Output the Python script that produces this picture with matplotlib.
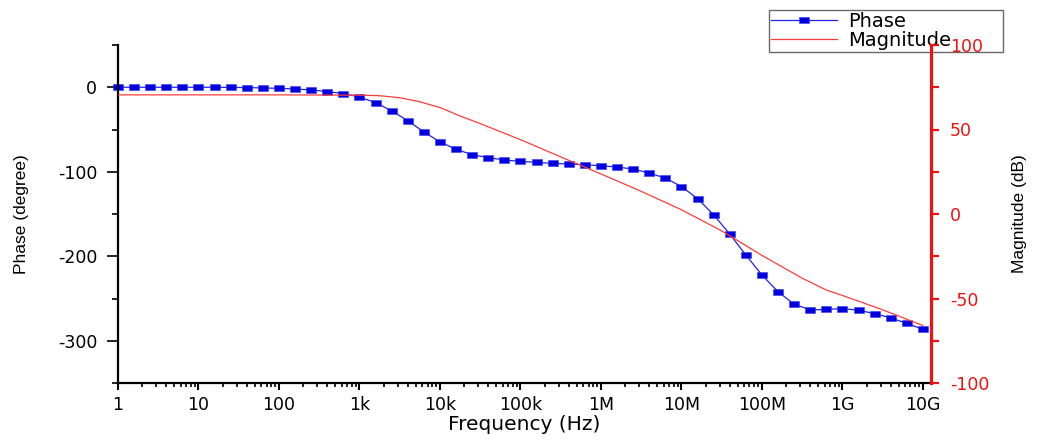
import numpy as np
from matplotlib import pyplot as plt
from matplotlib import font_manager
from matplotlib.path import Path
from matplotlib.ticker import FixedLocator, NullFormatter

# phase samples, 5 per decade (exponent of frequency in Hz)
phase_exp = [0.0, 0.2, 0.4, 0.6, 0.8, 1.0, 1.2, 1.4, 1.6, 1.8,
             2.0, 2.2, 2.4, 2.6, 2.8, 3.0, 3.2, 3.4, 3.6, 3.8,
             4.0, 4.2, 4.4, 4.6, 4.8, 5.0, 5.2, 5.4, 5.6, 5.8,
             6.0, 6.2, 6.4, 6.6, 6.8, 7.0, 7.2, 7.4, 7.6, 7.8,
             8.0, 8.2, 8.4, 8.6, 8.8, 9.0, 9.2, 9.4, 9.6, 9.8, 10.0]
phase_deg = [0, 0, 0, 0, 0, 0, 0, -0.2, -0.4, -0.8,
             -1.3, -2.1, -3.2, -5.1, -7.5, -11.5, -18.3, -27.8, -39.7, -52.8,
             -64.7, -73.4, -79.8, -83.3, -86.1, -87.7, -88.9, -90.1, -90.9, -91.7,
             -92.9, -94.4, -96.8, -101.6, -107.5, -117.5, -131.8, -151.0, -173.8, -198.6,
             -222.2, -242.0, -256.8, -263.5, -263.0, -261.9, -263.9, -267.9, -273.0, -279.4, -286.5]

# magnitude curve
mag_exp = [0.0, 1.0, 2.0, 3.0, 3.25, 3.5, 3.75, 4.0, 4.25, 4.5, 5.0, 5.5,
           6.0, 6.5, 7.0, 7.5, 8.0, 8.5, 8.8, 9.0, 9.5, 10.0]
mag_db = [70.5, 70.5, 70.5, 70.3, 70.0, 68.8, 66.4, 63.0, 58.0, 53.5, 44.0, 33.8,
          23.7, 13.4, 2.5, -10.0, -24.5, -38.0, -45.0, -48.2, -56.7, -66.0]

freq_ticks = [1, 10, 100, 1e3, 1e4, 1e5, 1e6, 1e7, 1e8, 1e9, 1e10]
freq_labels = ["1", "10", "100", "1k", "10k", "100k", "1M", "10M", "100M", "1G", "10G"]

names = {f.name for f in font_manager.fontManager.ttflist}
narrow = "Liberation Sans Narrow" in names
lab_font = "Liberation Sans Narrow" if narrow else "Liberation Sans"
lab_size = 14 if narrow else 12.5

plt.rcParams['font.family'] = ['DejaVu Sans']

fig = plt.figure(figsize=(10.46, 4.41), dpi=100)
ax = fig.add_axes([118 / 1046, 1 - 383 / 441, (931 - 118) / 1046, (383 - 45) / 441])
ax2 = ax.twinx()
ax.patch.set_visible(False)
ax2.patch.set_visible(False)

rect = Path([(-1, -0.6), (1, -0.6), (1, 0.6), (-1, 0.6), (-1, -0.6)],
            [Path.MOVETO, Path.LINETO, Path.LINETO, Path.LINETO, Path.CLOSEPOLY])

freq_p = 10.0 ** np.array(phase_exp)
freq_m = 10.0 ** np.array(mag_exp)

l1, = ax.plot(freq_p, phase_deg, color='#2020ee', lw=0.9, marker=rect, ms=7.5,
              mfc='#0000dd', mec='#3a3aff', mew=0.4, clip_on=False, label='Phase')
l2, = ax2.plot(freq_m, mag_db, color='#ff3b3b', lw=0.9, label='Magnitude')

ax.set_xscale('log')
ax.set_xlim(1, 10 ** 10.1)
ax.set_ylim(-350, 50)
ax2.set_ylim(-100, 100)

ax.xaxis.set_major_locator(FixedLocator(freq_ticks))
ax.set_xticklabels(freq_labels)
ax.xaxis.set_minor_locator(FixedLocator(
    [m * d for d in freq_ticks[:-1] for m in range(2, 10)]))
ax.xaxis.set_minor_formatter(NullFormatter())

ax.set_yticks([0, -100, -200, -300])
ax.set_yticklabels(["0", "-100", "-200", "-300"])
ax.set_yticks([50, -50, -150, -250, -350], minor=True)
ax2.set_yticks([100, 50, 0, -50, -100])
ax2.set_yticklabels(["100", "50", "0", "-50", "-100"])
ax2.set_yticks([75, 25, -25, -75], minor=True)

ax.tick_params(axis='x', which='major', direction='out', length=5, width=1.5,
               labelsize=12.5, pad=4)
ax.tick_params(axis='x', which='minor', direction='out', length=3, width=1.2)
ax.tick_params(axis='y', which='major', direction='out', length=8, width=1.2,
               labelsize=12.5, pad=7)
ax.tick_params(axis='y', which='minor', direction='out', length=4, width=1.2)
ax2.tick_params(axis='y', which='major', direction='out', length=5.5, width=1.6,
                color='#ee1111', labelcolor='#ee1111', labelsize=12.5, pad=8)
ax2.tick_params(axis='y', which='minor', direction='out', length=5.5, width=1.6,
                color='#ee1111')

for a in (ax, ax2):
    a.spines['top'].set_visible(False)
ax.spines['left'].set_linewidth(1.6)
ax.spines['bottom'].set_linewidth(1.6)
ax.spines['right'].set_visible(False)
ax2.spines['left'].set_visible(False)
ax2.spines['bottom'].set_visible(False)
ax2.spines['right'].set_color('#ee1111')
ax2.spines['right'].set_linewidth(2.3)

ax.set_xlabel("Frequency (Hz)", fontsize=14.5)
ax.xaxis.set_label_coords(0.5, -(415 - 383) / 338)
ax.set_ylabel("Phase (degree)", family=lab_font, fontsize=lab_size)
ax.yaxis.set_label_coords((29 - 118) / 813, 0.5)
ax2.set_ylabel("Magnitude (dB)", family=lab_font, fontsize=lab_size)
ax2.yaxis.set_label_coords((1012 - 118) / 813, 0.5)

# legend sits under the axes so the red "100" label shows through it
leg = fig.legend(handles=[l1, l2], loc='upper left',
                 bbox_to_anchor=(769 / 1046, 1 - 10 / 441, 234 / 1046, 0.0),
                 mode='expand', fontsize=14,
                 frameon=True, fancybox=False, shadow=False, labelspacing=0.0,
                 borderpad=0.1, handlelength=3.4, handletextpad=0.55,
                 borderaxespad=0)
leg.get_frame().set_edgecolor('#444444')
leg.get_frame().set_linewidth(1.0)
leg.set_zorder(-1)

fig.savefig("out.png", dpi=100)
